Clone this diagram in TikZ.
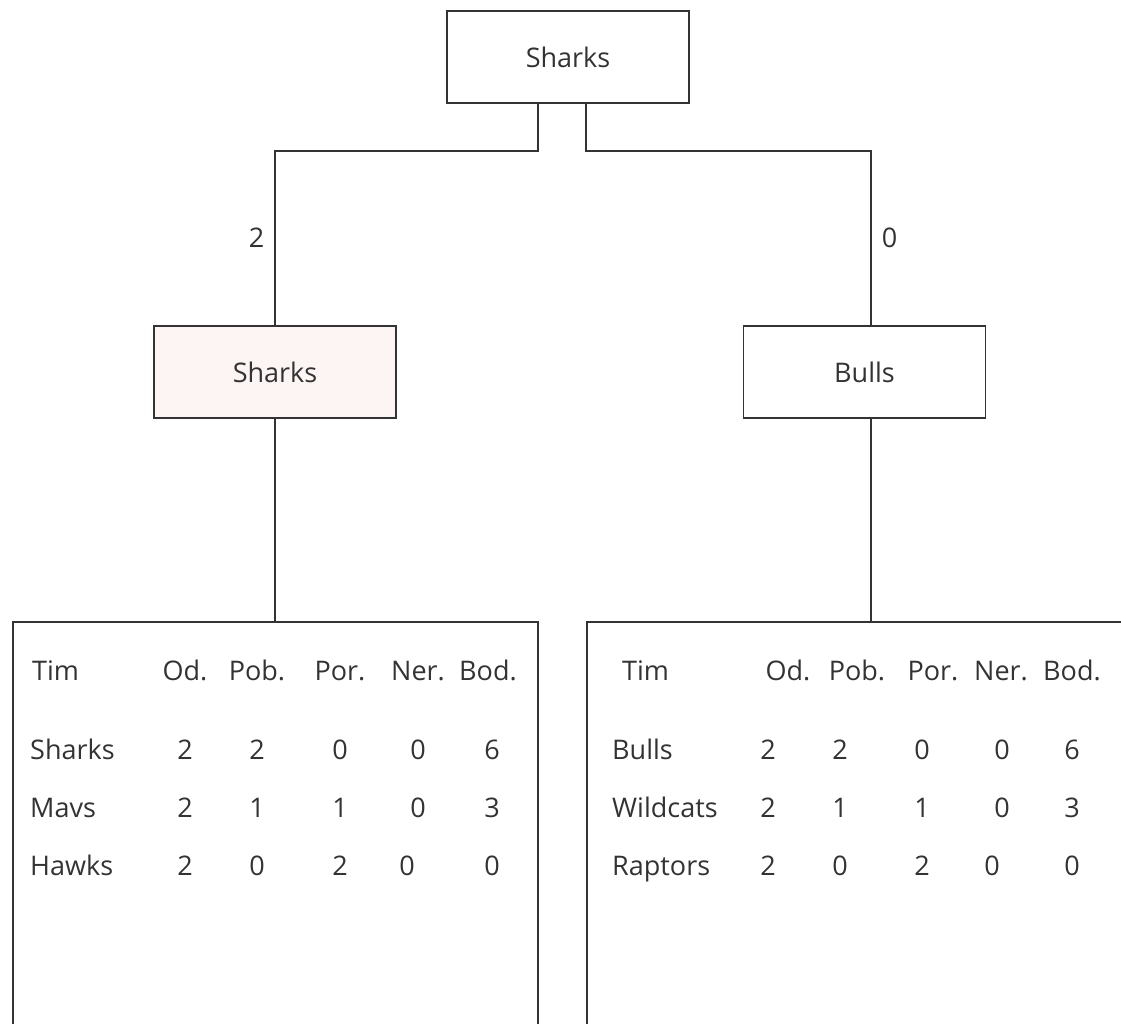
\documentclass[tikz,border=0pt]{standalone}
\usepackage{fontspec}
\setmainfont{Open Sans}
\usetikzlibrary{positioning}
\definecolor{winfill}{RGB}{253,244,244}

\begin{document}
\begin{tikzpicture}[
  x=1pt, y=-1pt, font=\fontsize{27}{32}\selectfont, text=black!80,
  wire/.style={draw=black!80, line width=1.5pt},
  team/.style={rectangle, wire, minimum width=242pt, minimum height=92pt, inner sep=0pt},
  winner/.style={team, fill=winfill},
  standings/.style={rectangle, wire, anchor=north west, minimum height=460pt, inner sep=0pt},
  cell/.style={anchor=base, inner sep=0pt},
  club/.style={anchor=base west, inner sep=0pt}
]

\useasboundingbox (0,0) rectangle (1121,1023);
\clip (0,0) rectangle (1121,1023);

% bracket
\node[team] (final) at (568,57) {Sharks};
\node[winner] (semi-l) at (275,372) {Sharks};
\node[team] (semi-r) at (864.5,372) {Bulls};

% group tables
\node[standings, minimum width=525pt] (group-l) at (12,621) {};
\node[standings, minimum width=572pt] (group-r) at (586,621) {};

\draw[wire] ([xshift=-30pt]final.south) -- ++(0,47)
  -| node[pos=0.75, left=10pt, inner sep=0pt] (score-l) {2} (semi-l.north);
\draw[wire] ([xshift=18pt]final.south) -- ++(0,47)
  -| node[pos=0.75, right=10pt, inner sep=0pt] (score-r) {0} ([xshift=6.5pt]semi-r.north);

\draw[wire] (semi-l.south) -- (semi-l.south |- group-l.north);
\draw[wire] ([xshift=6.5pt]semi-r.south) -- ([xshift=6.5pt]semi-r.south |- group-r.north);

% left group
\node[club] (head-l-0) at (32,680) {Tim};
\foreach \cx/\hd [count=\i] in {185/Od., 257/Pob., 340/Por., 418/Ner., 488/Bod.}
  \node[cell] (head-l-\i) at (\cx,680) {\hd};
\foreach \club/\ry/\vals [count=\r] in {
    Sharks/759/{185/2,257/2,340/0,418/0,492/6},
    Mavs/817/{185/2,257/1,340/1,418/0,492/3},
    Hawks/875/{185/2,257/0,340/2,407/0,492/0}} {
  \node[club] (club-l-\r) at (30,\ry) {\club};
  \foreach \cx/\v [count=\c] in \vals
    \node[cell] (val-l-\r-\c) at (\cx,\ry) {\v};
}

% right group
\node[club] (head-r-0) at (622,680) {Tim};
\foreach \cx/\hd [count=\i] in {788/Od., 857/Pob., 933/Por., 1001/Ner., 1072/Bod.}
  \node[cell] (head-r-\i) at (\cx,680) {\hd};
\foreach \club/\ry/\vals [count=\r] in {
    Bulls/759/{768/2,840/2,922/0,1002/0,1072/6},
    Wildcats/817/{768/2,840/1,922/1,1002/0,1072/3},
    Raptors/875/{768/2,840/0,922/2,992/0,1072/0}} {
  \node[club] (club-r-\r) at (612,\ry) {\club};
  \foreach \cx/\v [count=\c] in \vals
    \node[cell] (val-r-\r-\c) at (\cx,\ry) {\v};
}
\end{tikzpicture}
\end{document}
